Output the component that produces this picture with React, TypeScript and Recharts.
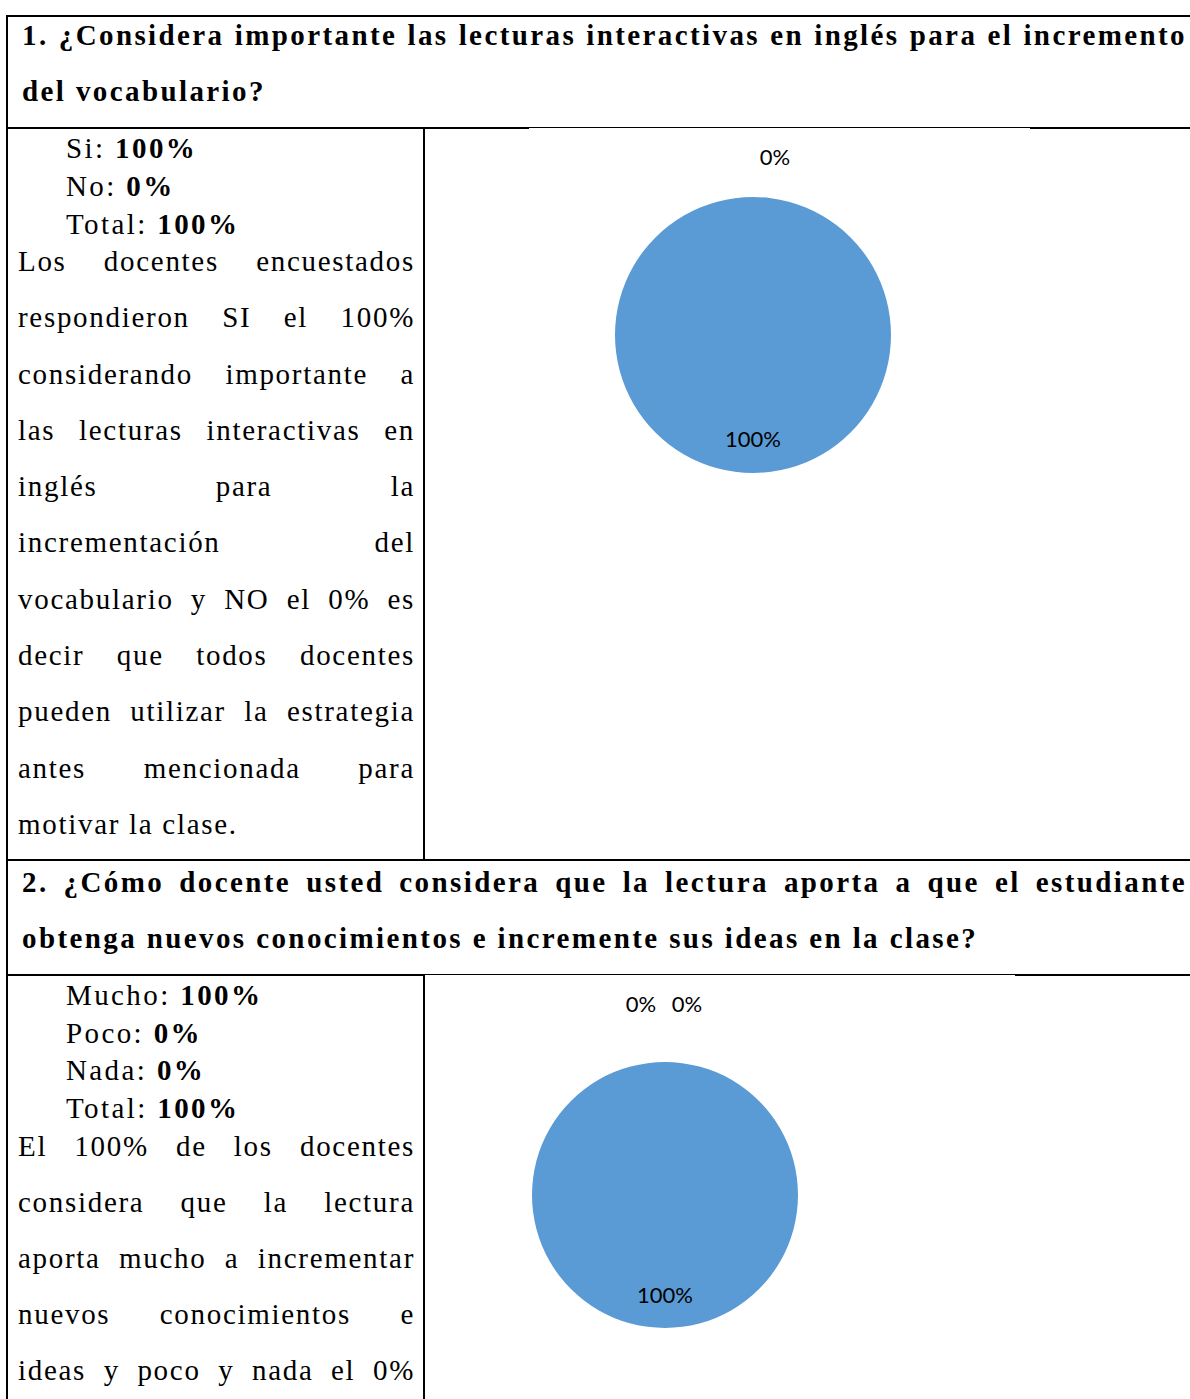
import React from "react";
import { PieChart, Pie, Cell } from "recharts";

const q1Categories = ["Si", "No"];
const q1Values = [100, 0];

const q2Categories = ["Mucho", "Poco", "Nada"];
const q2Values = [100, 0, 0];

const q1Heading = [
  "1. ¿Considera importante las lecturas interactivas en inglés para el incremento",
  "del vocabulario?",
];
const q1Summary = [
  ["Si: ", "100%"],
  ["No: ", "0%"],
  ["Total: ", "100%"],
];
const q1Text = [
  "Los docentes encuestados",
  "respondieron SI el 100%",
  "considerando importante a",
  "las lecturas interactivas en",
  "inglés para la",
  "incrementación del",
  "vocabulario y NO el 0% es",
  "decir que todos docentes",
  "pueden utilizar la estrategia",
  "antes mencionada para",
  "motivar la clase.",
];

const q2Heading = [
  "2. ¿Cómo docente usted considera que la lectura aporta a que el estudiante",
  "obtenga nuevos conocimientos e incremente sus ideas en la clase?",
];
const q2Summary = [
  ["Mucho: ", "100%"],
  ["Poco: ", "0%"],
  ["Nada: ", "0%"],
  ["Total: ", "100%"],
];
const q2Text = [
  "El 100% de los docentes",
  "considera que la lectura",
  "aporta mucho a incrementar",
  "nuevos conocimientos e",
  "ideas y poco y nada el 0%",
];

const SERIF = "'Liberation Serif', serif";
const BLUE = "#5B9BD5";
const RADIAN = Math.PI / 180;

function JustifiedLines({ lines, lastFull, style }: { lines: string[]; lastFull?: boolean; style: React.CSSProperties }) {
  return (
    <div style={{ position: "absolute", fontFamily: SERIF, color: "#000", ...style }}>
      {lines.map((l, i) => {
        const full = i < lines.length - 1 || lastFull;
        return (
          <div
            key={i}
            style={{
              textAlign: full ? "justify" : "left",
              textAlignLast: full ? "justify" : "left",
              whiteSpace: "nowrap",
              marginRight: full ? -2 : 0,
            }}
          >
            {l}
          </div>
        );
      })}
    </div>
  );
}

function Summary({ rows, style }: { rows: string[][]; style: React.CSSProperties }) {
  return (
    <div style={{ position: "absolute", fontFamily: SERIF, color: "#000", ...style }}>
      {rows.map((r, i) => (
        <div key={i}>
          {r[0]}
          <b>{r[1]}</b>
        </div>
      ))}
    </div>
  );
}

function makeLabel(zeroGap: number, zeroShift: number) {
  return (props: any) => {
    const { cx, cy, midAngle, outerRadius, percent, index, value } = props;
    const pct = `${Math.round(percent * 100)}%`;
    let x: number;
    let y: number;
    if (value > 0) {
      const r = outerRadius * 0.75;
      x = cx + r * Math.cos(-midAngle * RADIAN);
      y = cy + r * Math.sin(-midAngle * RADIAN);
    } else {
      const r = outerRadius + zeroGap;
      x = cx + r * Math.cos(-midAngle * RADIAN) + zeroShift + (index - 1) * 46;
      y = cy + r * Math.sin(-midAngle * RADIAN);
    }
    return (
      <text
        x={x}
        y={y}
        fill="#000"
        textAnchor="middle"
        dominantBaseline="central"
        fontFamily="Lato, 'Open Sans', sans-serif"
        fontSize={22}
      >
        {pct}
      </text>
    );
  };
}

function ResultPie({
  categories,
  values,
  width,
  height,
  cx,
  cy,
  radius,
  zeroGap,
  zeroShift,
}: {
  categories: string[];
  values: number[];
  width: number;
  height: number;
  cx: number;
  cy: number;
  radius: number;
  zeroGap: number;
  zeroShift: number;
}) {
  const data = categories.map((name, i) => ({ name, value: values[i] }));
  return (
    <PieChart width={width} height={height} margin={{ top: 0, right: 0, bottom: 0, left: 0 }}>
      <Pie
        data={data}
        dataKey="value"
        nameKey="name"
        cx={cx}
        cy={cy}
        outerRadius={radius}
        startAngle={90}
        endAngle={-270}
        stroke="none"
        labelLine={false}
        label={makeLabel(zeroGap, zeroShift)}
        isAnimationActive={false}
      >
        {data.map((d) => (
          <Cell key={d.name} fill={BLUE} />
        ))}
      </Pie>
    </PieChart>
  );
}

const line = (style: React.CSSProperties) => (
  <div style={{ position: "absolute", background: "#000", ...style }} />
);

const headingStyle: React.CSSProperties = {
  left: 22,
  width: 1163,
  fontSize: 29,
  lineHeight: "56px",
  fontWeight: 700,
  letterSpacing: "2.4px",
};
const bodyStyle: React.CSSProperties = {
  left: 18,
  width: 395,
  fontSize: 29,
  letterSpacing: "1.7px",
};
const summaryStyle: React.CSSProperties = {
  left: 66,
  fontSize: 29,
  letterSpacing: "2.4px",
};

export default function App() {
  return (
    <div
      style={{
        position: "absolute",
        left: 0,
        top: 0,
        width: 1190,
        height: 1399,
        overflow: "hidden",
        background: "#fff",
      }}
    >
      {/* borders */}
      {line({ left: 6, top: 15, width: 1184, height: 2 })}
      {line({ left: 6, top: 15, width: 2, height: 1384 })}
      {line({ left: 6, top: 127, width: 1184, height: 2 })}
      {line({ left: 423, top: 127, width: 2, height: 734 })}
      {line({ left: 6, top: 859, width: 1184, height: 2 })}
      {line({ left: 6, top: 974, width: 1184, height: 2 })}
      {line({ left: 423, top: 974, width: 2, height: 425 })}

      {/* question 1 */}
      <JustifiedLines lines={q1Heading} style={{ ...headingStyle, top: 7 }} />
      <Summary rows={q1Summary} style={{ ...summaryStyle, top: 129, lineHeight: "38px" }} />
      <JustifiedLines lines={q1Text} style={{ ...bodyStyle, top: 233, lineHeight: "56.3px" }} />
      <div style={{ position: "absolute", left: 529, top: 128, width: 501, height: 420, background: "#fff" }}>
        <ResultPie
          categories={q1Categories}
          values={q1Values}
          width={501}
          height={420}
          cx={224}
          cy={207}
          radius={138}
          zeroGap={41}
          zeroShift={22}
        />
      </div>

      {/* question 2 */}
      <JustifiedLines lines={q2Heading} style={{ ...headingStyle, top: 854 }} />
      <Summary rows={q2Summary} style={{ ...summaryStyle, top: 977, lineHeight: "37.7px" }} />
      <JustifiedLines lines={q2Text} style={{ ...bodyStyle, top: 1118, lineHeight: "56px" }} lastFull />
      <div style={{ position: "absolute", left: 425, top: 975, width: 590, height: 424, background: "#fff" }}>
        <ResultPie
          categories={q2Categories}
          values={q2Values}
          width={590}
          height={424}
          cx={240}
          cy={220}
          radius={133}
          zeroGap={59}
          zeroShift={-24}
        />
      </div>
    </div>
  );
}
